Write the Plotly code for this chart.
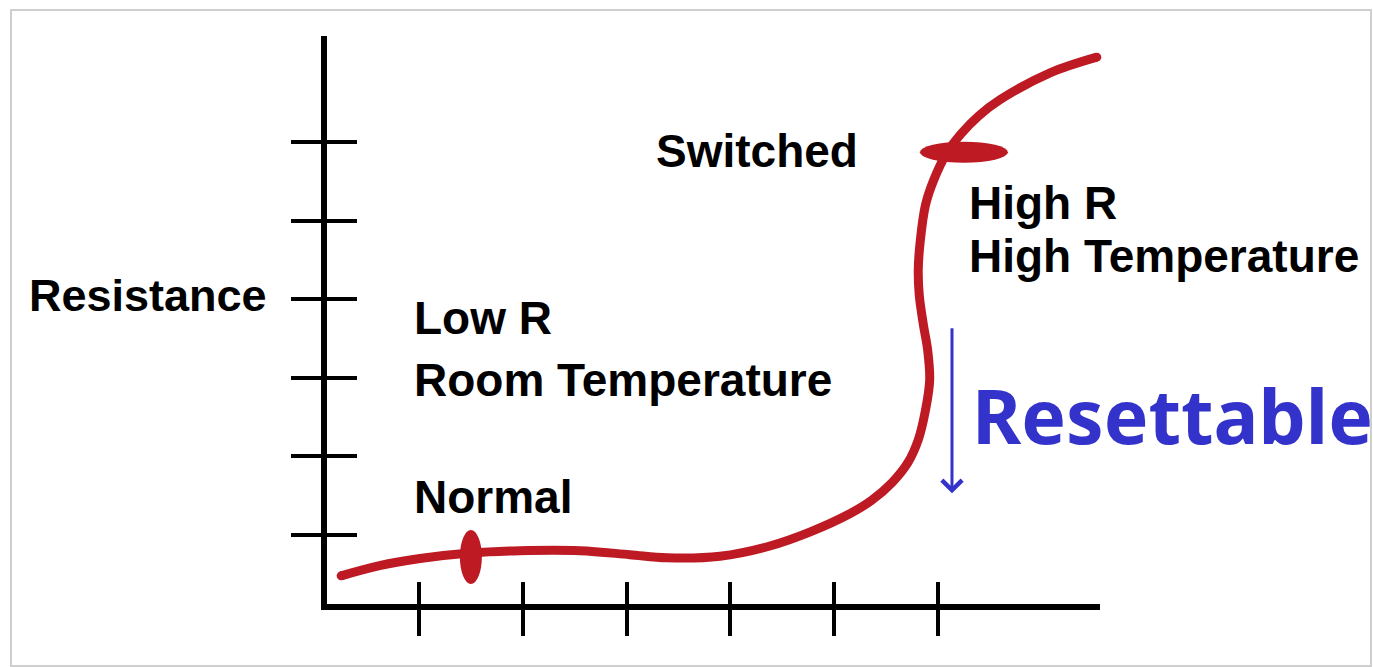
import plotly.graph_objects as go

# ---- data (temperature units on x, resistance units on y) ----
curve_x = [0.25, 0.62, 1.01, 1.49, 1.97, 2.55, 3.03, 3.39, 3.90, 4.38, 4.77, 5.15,
           5.36, 5.56, 5.71, 5.81, 5.88, 5.92, 5.90, 5.86, 5.82, 5.81, 5.83, 5.88,
           5.96, 6.08, 6.22, 6.39, 6.60, 7.08, 7.53]
curve_y = [0.48, 0.61, 0.70, 0.77, 0.80, 0.80, 0.75, 0.71, 0.73, 0.86, 1.04, 1.27,
           1.44, 1.67, 1.92, 2.21, 2.59, 2.97, 3.36, 3.67, 4.05, 4.37, 4.75, 5.20,
           5.52, 5.85, 6.10, 6.33, 6.54, 6.88, 7.08]

x_ticks = [1, 2, 3, 4, 5, 6]
y_ticks = [1, 2, 3, 4, 5, 6]

normal_pt = (1.50, 0.72)
switched_pt = (6.25, 5.87)

labels = ["Low R", "Room Temperature", "Normal",
          "Switched", "High R", "High Temperature"]
axis_label = "Resistance"
reset_label = "Resettable"
reset_arrow = dict(x=6.135, y_from=3.65, y_to=1.53)

RED = "#BD1A24"
BLUE = "#3333CC"
FONT = "Liberation Sans, Arial, sans-serif"

fig = go.Figure()

fig.add_trace(go.Scatter(
    x=curve_x, y=curve_y, mode="lines",
    line=dict(color=RED, width=9, shape="spline", smoothing=1.0),
    cliponaxis=False, hoverinfo="skip"))
# rounded caps at both ends of the stroke
fig.add_trace(go.Scatter(
    x=[curve_x[0], curve_x[-1]], y=[curve_y[0], curve_y[-1]], mode="markers",
    marker=dict(color=RED, size=9), cliponaxis=False, hoverinfo="skip"))
# invisible trace to activate the overlay axes (crossing ticks)
fig.add_trace(go.Scatter(x=[x_ticks[0]], y=[y_ticks[0]], xaxis="x2", yaxis="y2",
                         mode="markers", marker=dict(opacity=0), hoverinfo="skip"))

# ellipse markers
fig.add_shape(type="circle", xref="x", yref="y", xsizemode="pixel", ysizemode="pixel",
              xanchor=normal_pt[0], yanchor=normal_pt[1], x0=-11, x1=11, y0=-27, y1=27,
              fillcolor=RED, line=dict(width=0), layer="above")
fig.add_shape(type="circle", xref="x", yref="y", xsizemode="pixel", ysizemode="pixel",
              xanchor=switched_pt[0], yanchor=switched_pt[1], x0=-44, x1=44, y0=-10.5, y1=10.5,
              fillcolor=RED, line=dict(width=0), layer="above")

# light frame around the picture
fig.add_shape(type="rect", xref="paper", yref="paper", x0=-0.4088, x1=1.3506,
              y0=-0.1092, y1=1.0458, line=dict(color="#CFCFCF", width=2), layer="below")

fig.add_annotation(x=-0.388, y=0.544, xref="paper", yref="paper",
                   text="<b>%s</b>" % axis_label, showarrow=False,
                   xanchor="left", yanchor="middle",
                   font=dict(family=FONT, size=45, color="black"))

pos = [(0.93, 3.76), (0.93, 2.97), (0.93, 1.48),
       (3.26, 5.885), (6.28, 5.22), (6.28, 4.55)]
for txt, (ax_, ay_) in zip(labels, pos):
    fig.add_annotation(x=ax_, y=ay_, xref="x", yref="y", text="<b>%s</b>" % txt,
                       showarrow=False, xanchor="left", yanchor="middle",
                       font=dict(family=FONT, size=46, color="black"))

fig.add_annotation(x=6.31, y=2.53, xref="x", yref="y", text="<b>%s</b>" % reset_label,
                   showarrow=False, xanchor="left", yanchor="middle",
                   font=dict(family="Noto Sans, DejaVu Sans, sans-serif", size=75, color=BLUE))

fig.add_annotation(x=reset_arrow["x"], y=reset_arrow["y_to"], ax=reset_arrow["x"],
                   ay=reset_arrow["y_from"], xref="x", yref="y", axref="x", ayref="y",
                   text="", showarrow=True, arrowhead=4, arrowsize=1.3, arrowwidth=3,
                   arrowcolor=BLUE, standoff=0, startstandoff=0)

axis_common = dict(showgrid=False, zeroline=False, showticklabels=False,
                   tickcolor="black", tickwidth=4, fixedrange=True)

fig.update_layout(
    width=1373, height=667,
    margin=dict(l=327, r=273, t=36, b=63, pad=0),
    paper_bgcolor="white", plot_bgcolor="white", showlegend=False,
    xaxis=dict(range=[0.1137, 7.561], tickvals=x_ticks, ticks="outside", ticklen=26,
               showline=True, linewidth=6, linecolor="black", **axis_common),
    yaxis=dict(range=[0.122, 7.349], tickvals=y_ticks, ticks="outside", ticklen=30,
               showline=True, linewidth=6, linecolor="black", **axis_common),
    xaxis2=dict(range=[0.1137, 7.561], tickvals=x_ticks, ticks="inside", ticklen=22,
                overlaying="x", anchor="y", side="bottom", showline=False, **axis_common),
    yaxis2=dict(range=[0.122, 7.349], tickvals=y_ticks, ticks="inside", ticklen=30,
                overlaying="y", anchor="x", side="left", showline=False, **axis_common),
)

fig.write_html("out.html",
               config={"displayModeBar": False},
               post_script="document.body.style.margin='0';"
                           "document.body.style.overflow='hidden';")
